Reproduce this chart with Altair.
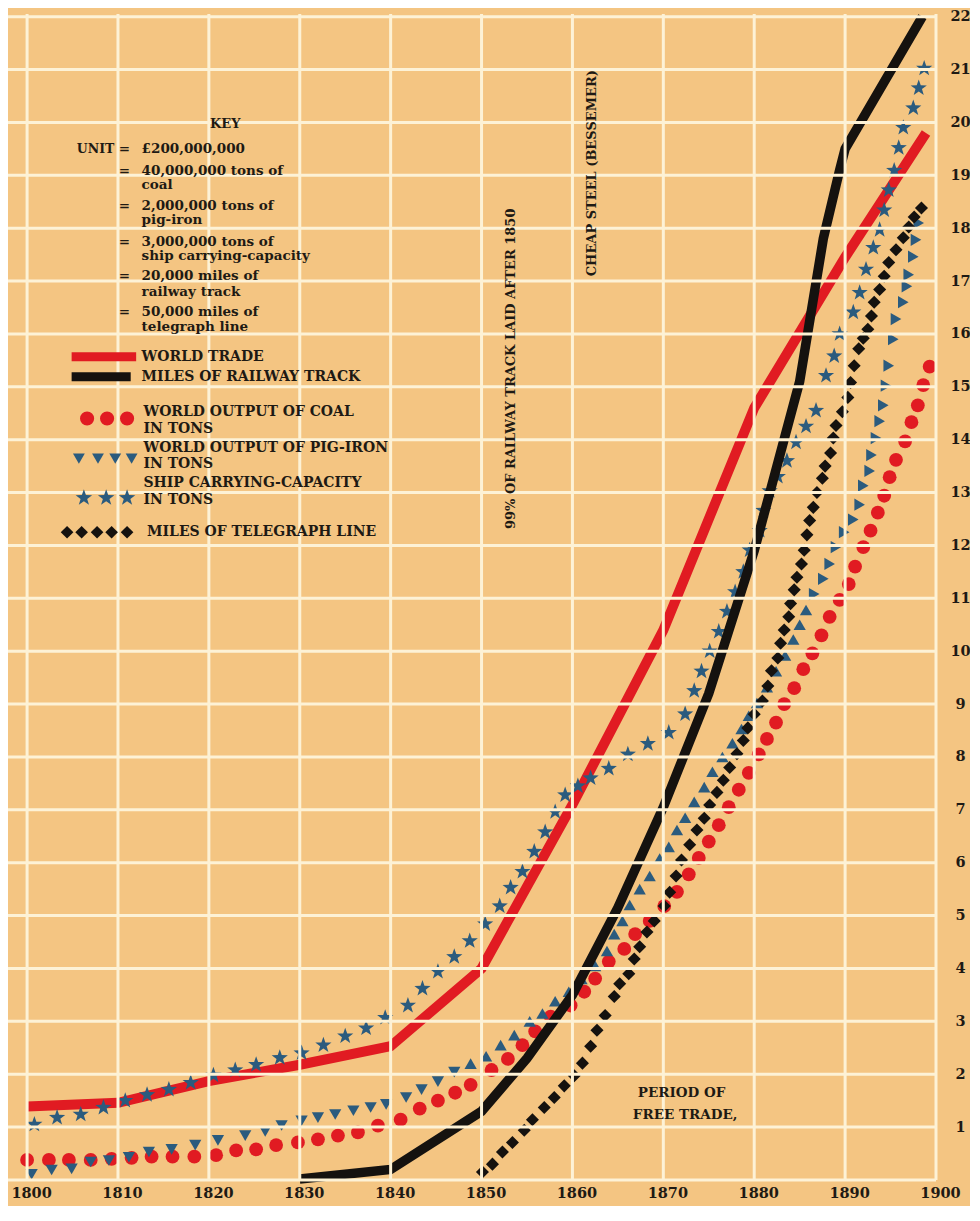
import altair as alt
import pandas as pd

# ---------------- data (units: 1 unit per key) ----------------
TRADE_YEARS = [1800, 1810, 1820, 1830, 1840, 1850, 1860, 1870, 1880, 1890, 1898.9]
TRADE = [1.39, 1.46, 1.87, 2.18, 2.53, 4.0, 7.1, 10.4, 14.6, 17.45, 19.8]

RAIL_YEARS = [1830, 1840, 1850, 1855, 1860, 1865, 1870, 1875, 1880, 1885, 1887.6, 1889.4, 1890, 1898.5]
RAIL = [0.02, 0.2, 1.3, 2.3, 3.5, 5.15, 7.05, 9.2, 11.9, 15.1, 17.8, 19.1, 19.5, 22.0]

COAL_YEARS = [1800, 1802.4, 1804.6, 1807, 1809.3, 1811.5, 1813.7, 1816, 1818.4, 1820.8,
              1823, 1825.2, 1827.4, 1829.8, 1832, 1834.2, 1836.4, 1838.6, 1841.1, 1843.2,
              1845.2, 1847.1, 1848.8, 1851.1, 1852.9, 1854.5, 1855.9, 1857.6, 1859.8, 1861.3,
              1862.5, 1864, 1865.7, 1866.9, 1868.5, 1870.1, 1871.5, 1872.8, 1873.9, 1875,
              1876.1, 1877.2, 1878.3, 1879.4, 1880.5, 1881.4, 1882.4, 1883.3, 1884.4, 1885.4,
              1886.4, 1887.4, 1888.3, 1889.4, 1890.4, 1891.1, 1892, 1892.8, 1893.6, 1894.3,
              1894.9, 1895.6, 1896.6, 1897.3, 1898, 1898.6, 1899.3]
COAL = [0.38, 0.38, 0.38, 0.38, 0.4, 0.42, 0.44, 0.44, 0.44, 0.47,
        0.56, 0.58, 0.66, 0.71, 0.77, 0.84, 0.9, 1.03, 1.14, 1.35,
        1.5, 1.65, 1.8, 2.08, 2.29, 2.55, 2.81, 3.09, 3.3, 3.56,
        3.81, 4.13, 4.37, 4.65, 4.9, 5.18, 5.45, 5.78, 6.09, 6.4,
        6.71, 7.05, 7.38, 7.7, 8.05, 8.34, 8.65, 9.0, 9.3, 9.66,
        9.96, 10.3, 10.65, 10.97, 11.27, 11.6, 11.97, 12.28, 12.62, 12.94,
        13.29, 13.62, 13.97, 14.33, 14.65, 15.03, 15.38]

IRON_YEARS = [1800.5, 1802.7, 1804.9, 1807, 1809, 1811.2, 1813.4, 1815.9, 1818.5, 1821,
              1824, 1826.2, 1828, 1830.2, 1832, 1833.9, 1835.9, 1837.8, 1839.5, 1841.7,
              1843.4, 1845.2, 1847, 1848.8, 1850.5, 1852.1, 1853.6, 1855.3, 1856.7, 1858.1,
              1859.6, 1861, 1862.5, 1863.8, 1864.6, 1865.5, 1866.3, 1867.4, 1868.5, 1869.6,
              1870.6, 1871.5, 1872.4, 1873.4, 1874.5, 1875.4, 1876.5, 1877.6, 1878.6, 1879.4,
              1880.3, 1881.4, 1882.4, 1883.4, 1884.3, 1885, 1885.7, 1886.6, 1887.6, 1888.3,
              1889, 1889.9, 1890.9, 1891.6, 1892, 1892.7, 1892.9, 1893.4, 1893.8, 1894.2,
              1894.5, 1894.8, 1895.3, 1895.6, 1896.4, 1896.8, 1897, 1897.5, 1897.8, 1898.1]
IRON = [0.11, 0.19, 0.21, 0.34, 0.37, 0.43, 0.53, 0.58, 0.66, 0.75,
        0.84, 0.92, 1.03, 1.12, 1.18, 1.24, 1.31, 1.37, 1.43, 1.56,
        1.71, 1.86, 2.04, 2.2, 2.34, 2.55, 2.74, 3.0, 3.15, 3.38,
        3.56, 3.8, 4.05, 4.33, 4.65, 4.9, 5.2, 5.5, 5.75, 6.08,
        6.3, 6.62, 6.85, 7.15, 7.43, 7.72, 8.0, 8.26, 8.53, 8.78,
        9.02, 9.32, 9.62, 9.92, 10.22, 10.5, 10.78, 11.08, 11.37, 11.65,
        11.97, 12.25, 12.49, 12.77, 13.13, 13.41, 13.71, 14.03, 14.35, 14.65,
        15.02, 15.4, 15.9, 16.28, 16.6, 16.9, 17.12, 17.46, 17.78, 18.1]

SHIP_YEARS = [1800.8, 1803.3, 1805.9, 1808.4, 1810.8, 1813.2, 1815.6, 1818, 1820.5, 1822.9,
              1825.2, 1827.8, 1830.2, 1832.6, 1835, 1837.3, 1839.4, 1841.9, 1843.5, 1845.2,
              1847, 1848.7, 1850.4, 1852, 1853.2, 1854.5, 1855.8, 1857, 1858.1, 1859.2,
              1860.6, 1862, 1864, 1866.1, 1868.3, 1870.6, 1872.4, 1873.4, 1874.2, 1875.1,
              1876.1, 1877, 1877.9, 1878.8, 1879.5, 1880.6, 1881, 1881.7, 1882.6, 1883.6,
              1884.6, 1885.7, 1886.8, 1887.9, 1888.8, 1889.4, 1890.9, 1891.6, 1892.3, 1893.1,
              1893.8, 1894.3, 1894.8, 1895.4, 1895.9, 1896.4, 1897.5, 1898.1, 1898.7]
SHIP = [1.05, 1.18, 1.24, 1.37, 1.5, 1.61, 1.71, 1.84, 1.98, 2.08,
        2.18, 2.31, 2.4, 2.55, 2.72, 2.87, 3.07, 3.3, 3.62, 3.94,
        4.22, 4.52, 4.84, 5.18, 5.53, 5.83, 6.21, 6.58, 6.96, 7.28,
        7.45, 7.6, 7.78, 8.05, 8.25, 8.46, 8.81, 9.25, 9.62, 10.0,
        10.37, 10.75, 11.12, 11.5, 11.91, 12.28, 12.66, 13.03, 13.3, 13.6,
        13.95, 14.25, 14.55, 15.21, 15.58, 16.0, 16.41, 16.78, 17.22, 17.63,
        17.97, 18.34, 18.72, 19.09, 19.52, 19.9, 20.27, 20.65, 21.02]

TELE_YEARS = [1850.1, 1851.2, 1852.3, 1853.4, 1854.7, 1855.6, 1856.9, 1858, 1859.1, 1860.2,
              1861.1, 1862, 1862.7, 1863.6, 1864.6, 1865.2, 1866.2, 1866.8, 1867.4, 1868.2,
              1869, 1870.1, 1870.7, 1871.4, 1872, 1872.9, 1873.7, 1874.5, 1875.1, 1875.9,
              1876.6, 1877.3, 1878.1, 1878.8, 1879.3, 1880, 1880.9, 1881.5, 1881.9, 1882.6,
              1882.9, 1883.3, 1883.8, 1884, 1884.4, 1884.7, 1885.2, 1885.5, 1885.8, 1886.1,
              1886.5, 1886.9, 1887.5, 1887.8, 1888.4, 1888.7, 1889, 1889.7, 1890.3, 1890.6,
              1891, 1891.5, 1892, 1892.5, 1892.9, 1893.2, 1893.8, 1894.3, 1894.8, 1895.6,
              1896.4, 1897, 1897.6, 1898.4]
TELE = [0.15, 0.3, 0.53, 0.71, 0.94, 1.14, 1.37, 1.56, 1.78, 1.97,
        2.21, 2.53, 2.83, 3.11, 3.47, 3.71, 3.9, 4.18, 4.41, 4.69,
        4.9, 5.18, 5.44, 5.75, 6.05, 6.34, 6.62, 6.84, 7.09, 7.33,
        7.56, 7.8, 8.06, 8.31, 8.55, 8.81, 9.06, 9.34, 9.63, 9.87,
        10.15, 10.4, 10.65, 10.9, 11.16, 11.4, 11.65, 11.91, 12.2, 12.47,
        12.72, 13.0, 13.27, 13.5, 13.75, 14.03, 14.27, 14.53, 14.8, 15.08,
        15.4, 15.72, 15.92, 16.09, 16.34, 16.6, 16.84, 17.09, 17.35, 17.59,
        17.82, 18.02, 18.21, 18.38]

X_TICKS = list(range(1800, 1901, 10))
Y_TICKS = list(range(0, 23))

UNIT_LINES = ["£200,000,000", "40,000,000 tons of", "coal", "2,000,000 tons of", "pig-iron",
              "3,000,000 tons of", "ship carrying-capacity", "20,000 miles of", "railway track",
              "50,000 miles of", "telegraph line"]
LEGEND_LINES = ["WORLD TRADE", "MILES OF RAILWAY TRACK", "WORLD OUTPUT OF COAL", "IN TONS",
                "WORLD OUTPUT OF PIG-IRON", "IN TONS", "SHIP CARRYING-CAPACITY", "IN TONS",
                "MILES OF TELEGRAPH LINE"]
NOTES_V = ["99% OF RAILWAY TRACK LAID AFTER 1850", "CHEAP STEEL (BESSEMER)"]
NOTES_H = ["PERIOD OF", "FREE TRADE,"]

# ---------------- layout (annotation anchors in data units) ----------------
UNIT_X = 1812.6
UNIT_Y = [19.49, 19.09, 18.81, 18.42, 18.15, 17.74, 17.48, 17.09, 16.79, 16.41, 16.13]
EQ_Y = [19.49, 19.09, 18.42, 17.74, 17.09, 16.41]
LEG_X = [1812.6, 1812.6, 1812.8, 1812.8, 1812.8, 1812.8, 1812.8, 1812.8, 1813.2]
LEG_Y = [15.57, 15.19, 14.53, 14.21, 13.85, 13.54, 13.18, 12.86, 12.25]
NOTES_V_POS = [(1853.2, 15.34), (1862.2, 19.04)]
NOTES_H_POS = [(1872.0, 1.65), (1872.4, 1.22)]

BG = "#F4C582"
GRID = "#FDF2D6"
RED = "#E11B22"
BLACK = "#15120F"
BLUE = "#2B5B7E"
INK = "#1E1A14"
SERIF = "DejaVu Serif"
STAR = ("M0,-1L0.235,-0.324L0.951,-0.309L0.38,0.124L0.588,0.809L0,0.4"
        "L-0.588,0.809L-0.38,0.124L-0.951,-0.309L-0.235,-0.324Z")

xs = alt.Scale(domain=[1797.9, 1900], nice=False, zero=False)
ys = alt.Scale(domain=[0, 22.05], nice=False, zero=False)
x_axis = alt.Axis(values=X_TICKS, format="d", grid=False,
                  domain=False, ticks=False, labelFont=SERIF, labelFontWeight="bold", labelFontSize=14.5,
                  labelColor=INK, labelPadding=6, labelOffset=4, labelFlush=False, labelOverlap=False,
                  title=None)
y_axis = alt.Axis(orient="right", values=Y_TICKS, labelExpr="datum.value == 0 ? '' : datum.label",
                  grid=False, domain=False, ticks=False,
                  labelFont=SERIF, labelFontWeight="bold", labelFontSize=14.5, labelColor=INK,
                  labelAlign="center", labelBaseline="middle", labelPadding=24, labelOverlap=False,
                  title=None)
X = alt.X("year:Q", scale=xs, axis=x_axis)
Y = alt.Y("value:Q", scale=ys, axis=y_axis)
X2 = alt.X2("year2:Q")


def df(years, vals):
    return pd.DataFrame({"year": years, "value": vals})


trade = alt.Chart(df(TRADE_YEARS, TRADE)).mark_line(
    color=RED, strokeWidth=10, strokeCap="butt", strokeJoin="miter").encode(x=X, y=Y)
rail = alt.Chart(df(RAIL_YEARS, RAIL)).mark_line(
    color=BLACK, strokeWidth=9.5, strokeCap="butt", strokeJoin="miter").encode(x=X, y=Y)
coal = alt.Chart(df(COAL_YEARS, COAL)).mark_point(
    shape="circle", filled=True, size=190, color=RED, opacity=1, strokeWidth=0).encode(x=X, y=Y)
iron = alt.Chart(df(IRON_YEARS, IRON)).transform_calculate(
    ang="datum.year < 1848 ? 0 : (datum.year < 1886 ? 180 : 270)"
).mark_point(shape="triangle-down", filled=True, size=150, color=BLUE, opacity=1, strokeWidth=0).encode(
    x=X, y=Y, angle=alt.Angle("ang:Q", scale=None))
ship = alt.Chart(df(SHIP_YEARS, SHIP)).mark_point(
    shape=STAR, filled=True, size=290, color=BLUE, opacity=1, strokeWidth=0).encode(x=X, y=Y)
tele = alt.Chart(df(TELE_YEARS, TELE)).mark_point(
    shape="diamond", filled=True, size=170, color=BLACK, opacity=1, strokeWidth=0).encode(x=X, y=Y)

# ---------------- grid drawn over the series, under the text ----------------
grid_v = alt.Chart(pd.DataFrame({"year": X_TICKS})).mark_rule(
    color=GRID, strokeWidth=3).encode(x=X)
grid_h = alt.Chart(pd.DataFrame({"value": Y_TICKS})).mark_rule(
    color=GRID, strokeWidth=3).encode(y=Y)

# ---------------- key ----------------
key_title = alt.Chart(pd.DataFrame({"year": [1821.8], "value": [19.97], "t": ["KEY"]})).mark_text(
    font=SERIF, fontWeight="bold", fontSize=13, color=INK, align="center", baseline="middle"
).encode(x=X, y=Y, text="t:N")
unit_word = alt.Chart(pd.DataFrame({"year": [1809.6], "value": [19.49], "t": ["UNIT"]})).mark_text(
    font=SERIF, fontWeight="bold", fontSize=12.5, color=INK, align="right", baseline="middle"
).encode(x=X, y=Y, text="t:N")
eqs = alt.Chart(pd.DataFrame({"year": [1810.7] * len(EQ_Y), "value": EQ_Y, "t": ["="] * len(EQ_Y)})).mark_text(
    font=SERIF, fontWeight="bold", fontSize=13.5, color=INK, align="center", baseline="middle"
).encode(x=X, y=Y, text="t:N")
units = alt.Chart(pd.DataFrame({"year": [UNIT_X] * len(UNIT_Y), "value": UNIT_Y, "t": UNIT_LINES})).mark_text(
    font=SERIF, fontWeight="bold", fontSize=13.5, color=INK, align="left", baseline="middle"
).encode(x=X, y=Y, text="t:N")
legend_text = alt.Chart(pd.DataFrame({"year": LEG_X, "value": LEG_Y, "t": LEGEND_LINES})).mark_text(
    font=SERIF, fontWeight="bold", fontSize=14, color=INK, align="left", baseline="middle"
).encode(x=X, y=Y, text="t:N")

bars = pd.DataFrame({"year": [1804.9, 1804.9], "year2": [1812.0, 1811.4], "value": [15.57, 15.19],
                     "s": ["trade", "rail"]})
leg_red = alt.Chart(bars).transform_filter("datum.s == 'trade'").mark_rule(
    color=RED, strokeWidth=9, strokeCap="butt").encode(x=X, x2=X2, y=Y)
leg_black = alt.Chart(bars).transform_filter("datum.s == 'rail'").mark_rule(
    color=BLACK, strokeWidth=9, strokeCap="butt").encode(x=X, x2=X2, y=Y)
leg_coal = alt.Chart(df([1806.6, 1808.8, 1811.0], [14.4] * 3)).mark_point(
    shape="circle", filled=True, size=200, color=RED, opacity=1, strokeWidth=0).encode(x=X, y=Y)
leg_iron = alt.Chart(df([1805.7, 1807.8, 1809.7, 1811.5], [13.64] * 4)).mark_point(
    shape="triangle-down", filled=True, size=140, color=BLUE, opacity=1, strokeWidth=0).encode(x=X, y=Y)
leg_ship = alt.Chart(df([1806.25, 1808.7, 1811.0], [12.9] * 3)).mark_point(
    shape=STAR, filled=True, size=300, color=BLUE, opacity=1, strokeWidth=0).encode(x=X, y=Y)
leg_tele = alt.Chart(df([1804.4, 1806.0, 1807.7, 1809.3, 1811.0], [12.25] * 5)).mark_point(
    shape="diamond", filled=True, size=160, color=BLACK, opacity=1, strokeWidth=0).encode(x=X, y=Y)

notes_v = alt.Chart(pd.DataFrame({"year": [p[0] for p in NOTES_V_POS], "value": [p[1] for p in NOTES_V_POS],
                                  "t": NOTES_V})).mark_text(
    font=SERIF, fontWeight="bold", fontSize=13, color=INK, angle=270, align="center", baseline="middle"
).encode(x=X, y=Y, text="t:N")
notes_h = alt.Chart(pd.DataFrame({"year": [p[0] for p in NOTES_H_POS], "value": [p[1] for p in NOTES_H_POS],
                                  "t": NOTES_H})).mark_text(
    font=SERIF, fontWeight="bold", fontSize=13.5, color=INK, align="center", baseline="middle"
).encode(x=X, y=Y, text="t:N")

chart = alt.layer(
    trade, coal, iron, ship, rail, tele,
    grid_v, grid_h,
    key_title, unit_word, eqs, units, legend_text,
    leg_red, leg_black, leg_coal, leg_iron, leg_ship, leg_tele,
    notes_v, notes_h,
).properties(
    width=928, height=1166,
    autosize=alt.AutoSizeParams(type="none"),
    padding={"left": 0, "top": 6, "right": 34, "bottom": 26},
    background=BG,
).configure_view(strokeWidth=0, fill=BG)

chart.save("out.html", embed_options={"renderer": "svg", "actions": False})
